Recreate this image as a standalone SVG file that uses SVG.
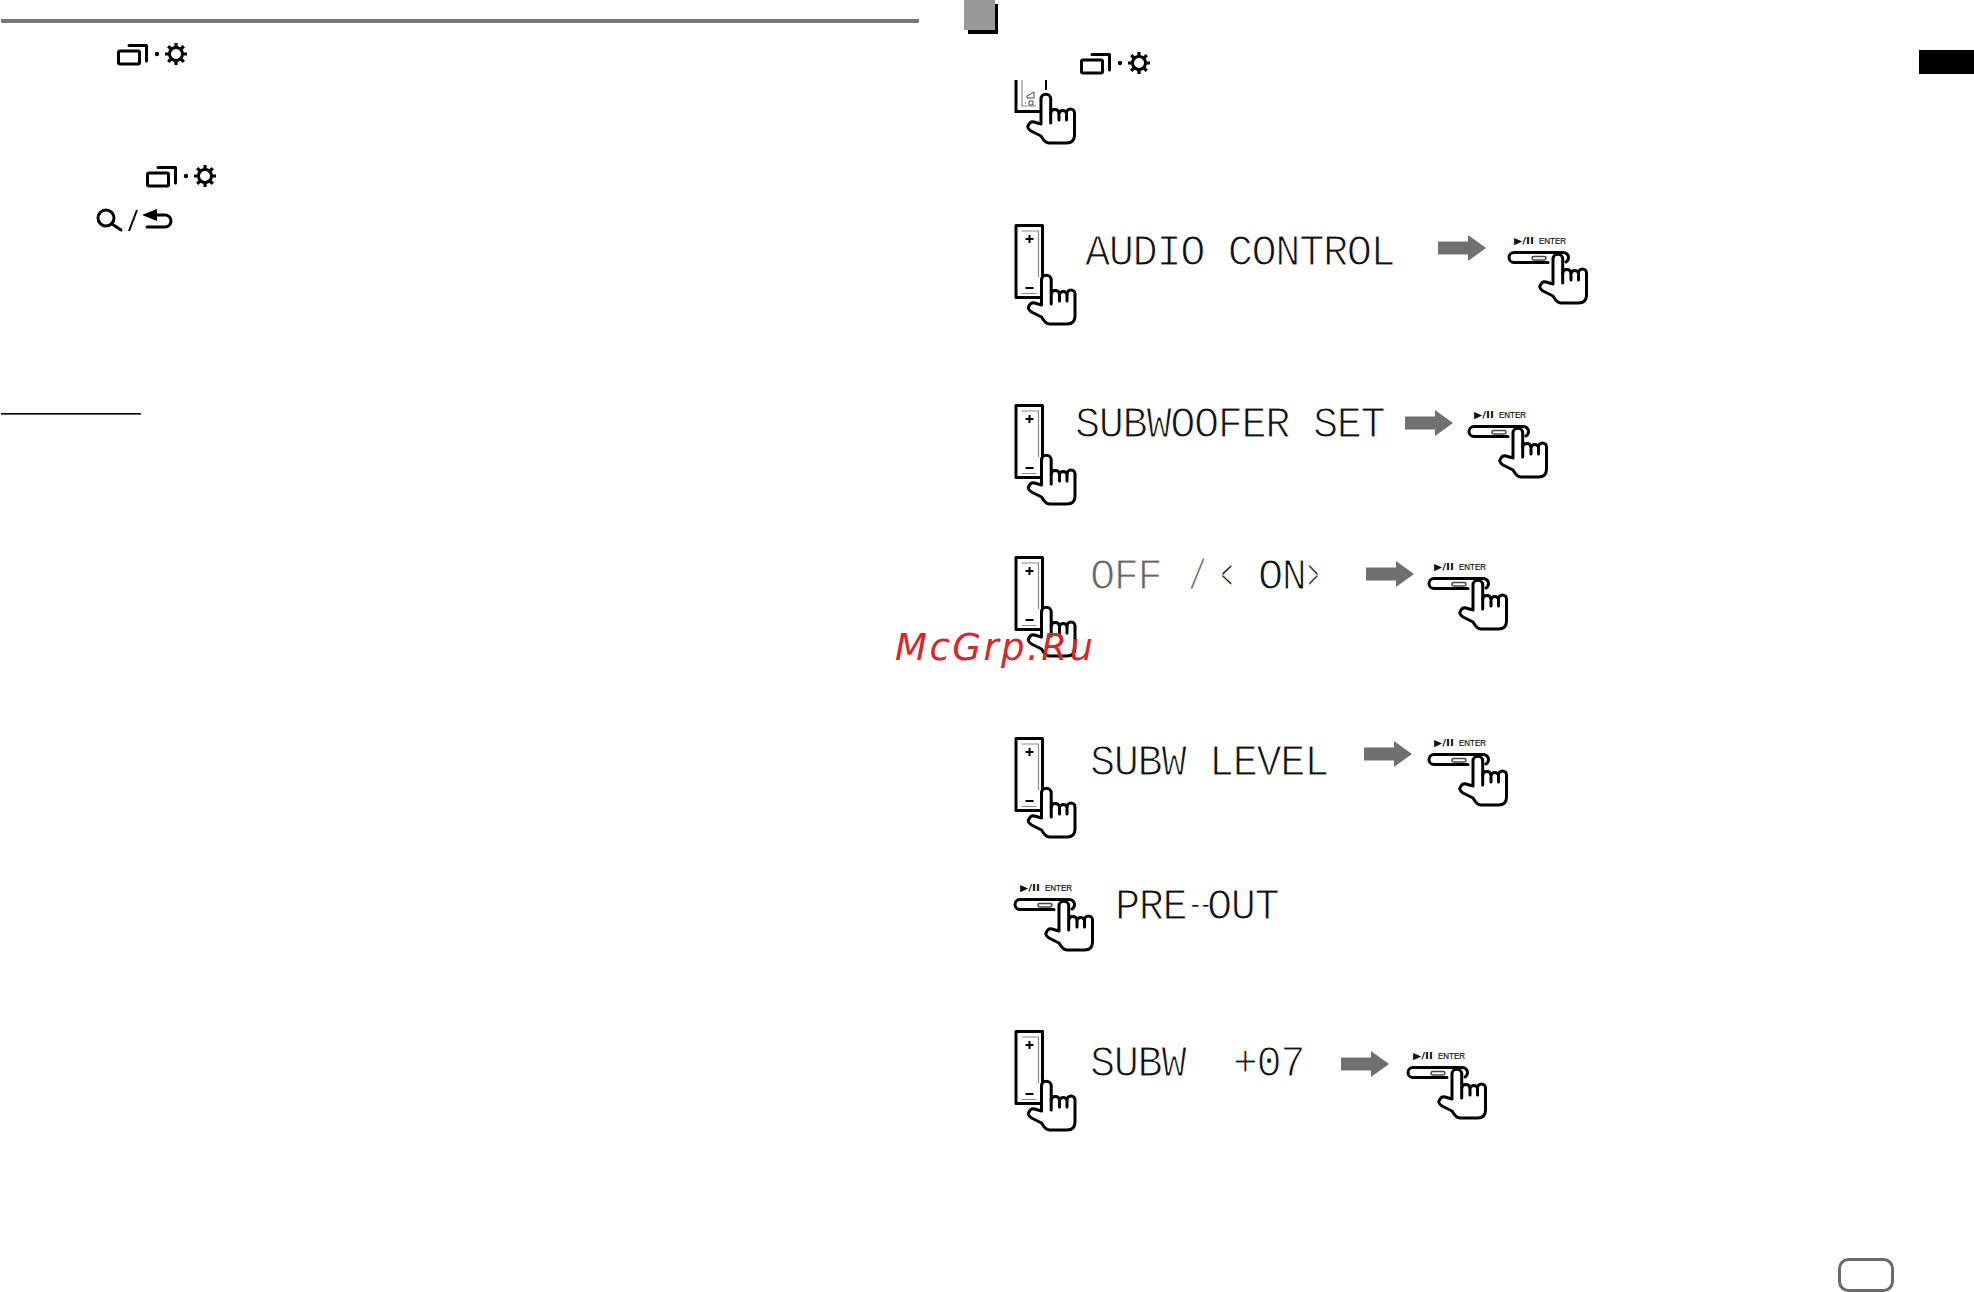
<svg xmlns="http://www.w3.org/2000/svg" xmlns:xlink="http://www.w3.org/1999/xlink" width="1974" height="1292" viewBox="0 0 1974 1292">
<style>
.lcd{font-family:"Liberation Mono","DejaVu Sans Mono",monospace;font-size:42px;fill:#111;stroke:#fff;stroke-width:1.1px;letter-spacing:-1.4px}
.dim{fill:#666}
.lab{font-family:"Liberation Sans",Arial,sans-serif;font-size:8.8px;fill:#111;stroke:#111;stroke-width:.2px}
.play{font-family:"DejaVu Sans",sans-serif;font-size:9.5px;font-weight:bold;fill:#111}
.wm{font-family:"DejaVu Sans",sans-serif;font-style:italic;font-size:37px;fill:#d8262a}
.k{fill:none;stroke:#000;stroke-width:3;stroke-linecap:round;stroke-linejoin:round}
.g{fill:none;stroke:#8a8a8a;stroke-width:1.2}
</style>
<defs>
<g id="winGear">
<rect class="k" x="1.5" y="8" width="21" height="13" rx="1.5"/>
<path class="k" d="M12 2.5H29.5V18" stroke-linecap="butt"/>
<circle cx="40" cy="11" r="2.2"/>
<circle cx="59" cy="11" r="6.5" fill="none" stroke="#000" stroke-width="3"/>
<path d="M59 0V4M59 18V22M48 11H52M66 11H70M51.2 3.2L54 6M64 16L66.8 18.8M66.8 3.2L64 6M54 16L51.2 18.8" stroke="#000" stroke-width="3.2" fill="none"/>
</g>
<g id="hand">
<path class="k" style="fill:#fff" d="M-5 30V5A4.7 4.7 0 0 1 4.7 5V19A4.2 4.2 0 0 1 13 19A4 4 0 0 1 20.500 19A4 4 0 0 1 28.500 19V41Q28.500 49 20.500 49H3Q-1 49 -5 42L-15 37Q-19 34 -18 32Q-16 27 -12 28Z"/>
<path class="k" d="M4.7 19V29M13 19V26M20.500 19V26"/>
</g>
<g id="rocker">
<rect class="k" x="1.5" y="1.5" width="26.5" height="72" style="fill:#fff;stroke-linecap:butt"/>
<path class="g" d="M7 7H24V53M7 69.500H22"/>
<path d="M11 15H19M15 11V19M11 64H19" stroke="#000" stroke-width="2" fill="none"/>
<use href="#hand" x="32" y="51"/>
</g>
<g id="enter">
<text class="play" x="6" y="-7" textLength="20" lengthAdjust="spacingAndGlyphs">▶/II</text>
<text class="lab" x="31" y="-7" textLength="27" lengthAdjust="spacingAndGlyphs">ENTER</text>
<path class="k" d="M40 11.500H6A5 5 0 0 1 6 1.500H55A5 5 0 0 1 60.500 6.500Q60.500 9.500 58 11"/>
<rect x="24" y="5.500" width="14" height="3.500" rx="1.700" fill="none" stroke="#444" stroke-width="1.500"/>
<use href="#hand" x="50" y="3"/>
</g>
<path id="arrow" fill="#707070" d="M0 -6.500H30V-13L48 0L30 13V6.500H0Z"/>
</defs>

<rect id="top-rule" x="1" y="19" width="918" height="4" fill="#777"/>
<rect id="note-rule" x="1" y="413" width="140" height="1.600" fill="#000"/>

<g id="icon-left-1"><use href="#winGear" x="117" y="43"/></g>
<g id="icon-left-2"><use href="#winGear" x="146" y="165"/></g>
<g id="icon-left-3">
<circle class="k" cx="106" cy="218" r="8"/>
<path class="k" d="M112 224L121 230" stroke-width="4"/>
<path d="M129 231L137 210" stroke="#000" stroke-width="2" fill="none"/>
<path d="M142 215L157 209V221Z"/>
<path class="k" d="M155 215H165A6 6 0 0 1 165 227H147"/>
</g>

<g id="step-badge"><rect x="968" y="4" width="30" height="30"/><rect x="964" y="0" width="31" height="30" fill="#999"/></g>
<g id="lang-tab"><rect x="1919" y="50" width="55" height="24"/></g>
<g id="page-tab"><rect x="1839.500" y="1259.500" width="53" height="31" rx="9" fill="#fff" stroke="#6a6a6a" stroke-width="3"/></g>
<g id="icon-right-1"><use href="#winGear" x="1080" y="52"/></g>

<g id="step-1-rocker">
<path d="M1016 80V111.500H1044" fill="none" stroke="#000" stroke-width="3"/>
<path d="M1022 80V106H1036" class="g"/>
<path d="M1046 80V90" stroke="#000" stroke-width="2"/>
<path d="M1027 96L1034 92V98H1027ZM1025 103H1026M1029 101H1033V105H1029Z" fill="none" stroke="#444" stroke-width="1"/>
<use href="#hand" x="1046" y="94"/>
</g>

<g id="step-2">
<use href="#rocker" x="1014.500" y="224"/>
<text class="lcd" transform="translate(1085 265) scale(1 1.04)">AUDIO CONTROL</text>
<use href="#enter" x="1508" y="251"/>
</g>
<g id="step-3">
<use href="#rocker" x="1014.500" y="404"/>
<text class="lcd" transform="translate(1075 437) scale(1 1.04)">SUBWOOFER SET</text>
<use href="#enter" x="1468" y="425"/>
</g>
<g id="step-4">
<use href="#rocker" x="1014.500" y="556"/>
<text class="lcd dim" transform="translate(1090 589) scale(1 1.04)">OFF</text>
<text class="lcd dim" x="1188" y="589" textLength="18" lengthAdjust="spacingAndGlyphs">/</text>
<text class="lcd" x="1221" y="589" textLength="11" lengthAdjust="spacingAndGlyphs">&lt;</text>
<text class="lcd" transform="translate(1258 589) scale(1 1.04)">ON</text>
<text class="lcd" x="1308" y="589" textLength="10" lengthAdjust="spacingAndGlyphs">&gt;</text>
<use href="#enter" x="1428" y="577"/>
</g>
<g id="step-5">
<use href="#rocker" x="1014.500" y="737"/>
<text class="lcd" transform="translate(1090 775) scale(1 1.04)" xml:space="preserve">SUBW LEVEL</text>
<use href="#enter" x="1428" y="753"/>
</g>
<g id="step-6">
<use href="#enter" x="1014" y="898"/>
<text class="lcd" transform="translate(1115 919) scale(1 1.04)">PRE<tspan x="73" dy="-5.4" style="font-size:24px;stroke-width:.3px;letter-spacing:-3.4px">--</tspan><tspan x="92" dy="5.4">OUT</tspan></text>
</g>
<g id="step-7">
<use href="#rocker" x="1014.500" y="1030"/>
<text class="lcd" transform="translate(1090 1076) scale(1 1.04)" xml:space="preserve">SUBW  +07</text>
<use href="#enter" x="1407" y="1066"/>
</g>

<g id="connectors">
<use href="#arrow" x="1438" y="248"/>
<use href="#arrow" x="1405" y="423"/>
<use href="#arrow" x="1366" y="574"/>
<use href="#arrow" x="1364" y="754"/>
<use href="#arrow" x="1341" y="1064"/>
</g>

<text class="wm" x="895" y="660" textLength="198" lengthAdjust="spacing">McGrp.Ru</text>
</svg>
